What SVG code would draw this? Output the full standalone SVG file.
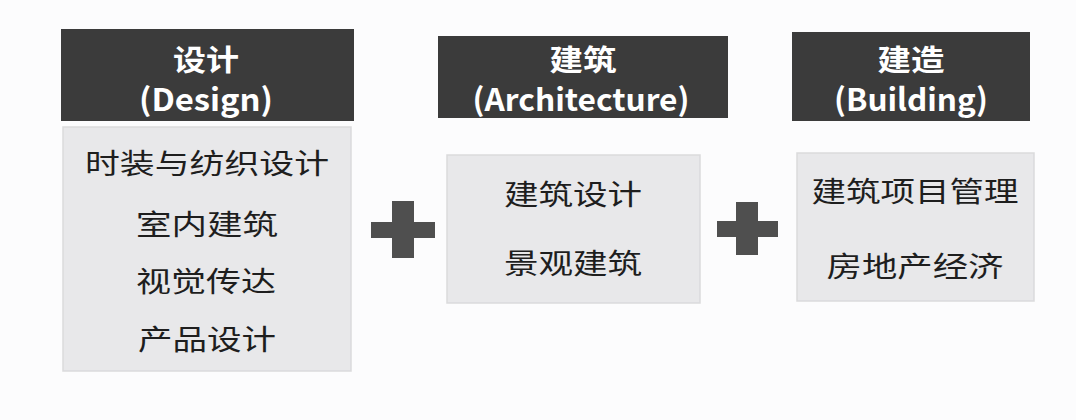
<svg xmlns="http://www.w3.org/2000/svg" width="1076" height="420" viewBox="0 0 1076 420">
<style>
.hd{fill:#3b3b3b}
.bd{fill:#e8e8ea;stroke:#dadadc;stroke-width:1.5}
.pl{fill:#4f4f4f}
.ht{font-family:"Noto Sans CJK SC","Noto Sans",sans-serif;font-weight:bold;font-size:29px;fill:#ffffff;text-anchor:middle}
.lt{font-size:31px}
.bt{font-family:"Noto Sans CJK SC",sans-serif;font-size:28px;fill:#1e1e1e;text-anchor:middle}
</style>
<rect x="0" y="0" width="1076" height="420" fill="#fcfcfd"/>
<g id="design">
<rect class="hd" x="61" y="29" width="293" height="92"/>
<text class="ht" x="206" y="71" textLength="66" lengthAdjust="spacingAndGlyphs">设计</text>
<text class="ht lt" x="206" y="111" textLength="134" lengthAdjust="spacingAndGlyphs">(Design)</text>
<rect class="bd" x="63" y="127" width="288" height="244"/>
<text class="bt" x="207" y="174" textLength="244" lengthAdjust="spacingAndGlyphs">时装与纺织设计</text>
<text class="bt" x="207" y="235" textLength="142" lengthAdjust="spacingAndGlyphs">室内建筑</text>
<text class="bt" x="206" y="292" textLength="140" lengthAdjust="spacingAndGlyphs">视觉传达</text>
<text class="bt" x="207" y="350" textLength="138" lengthAdjust="spacingAndGlyphs">产品设计</text>
</g>
<g id="architecture">
<rect class="hd" x="438" y="36" width="290" height="82"/>
<text class="ht" x="583" y="71" textLength="67" lengthAdjust="spacingAndGlyphs">建筑</text>
<text class="ht lt" x="581" y="111" textLength="217" lengthAdjust="spacingAndGlyphs">(Architecture)</text>
<rect class="bd" x="447" y="155" width="253" height="148"/>
<text class="bt" x="573" y="205" textLength="138" lengthAdjust="spacingAndGlyphs">建筑设计</text>
<text class="bt" x="573" y="274" textLength="138" lengthAdjust="spacingAndGlyphs">景观建筑</text>
</g>
<g id="building">
<rect class="hd" x="792" y="32" width="238" height="89"/>
<text class="ht" x="911" y="71" textLength="67" lengthAdjust="spacingAndGlyphs">建造</text>
<text class="ht lt" x="911" y="111" textLength="154" lengthAdjust="spacingAndGlyphs">(Building)</text>
<rect class="bd" x="797" y="153" width="237" height="148"/>
<text class="bt" x="915" y="202" textLength="207" lengthAdjust="spacingAndGlyphs">建筑项目管理</text>
<text class="bt" x="915" y="277" textLength="177" lengthAdjust="spacingAndGlyphs">房地产经济</text>
</g>
<g id="connectors">
<g id="plus1">
<rect class="pl" x="392" y="201" width="22" height="57"/>
<rect class="pl" x="371" y="222" width="64" height="16"/>
</g>
<g id="plus2">
<rect class="pl" x="736" y="202" width="22" height="53"/>
<rect class="pl" x="717" y="221" width="61" height="16"/>
</g>
</g>
</svg>
